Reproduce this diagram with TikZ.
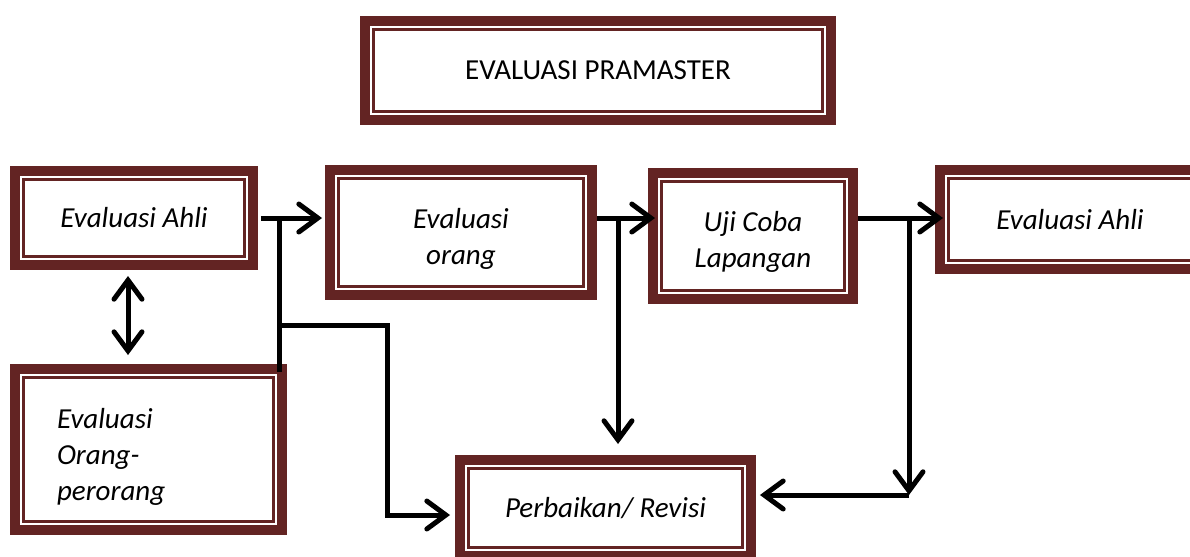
\documentclass[tikz,border=0pt]{standalone}
\usepackage{fontspec}
\setmainfont{Carlito}
\usetikzlibrary{positioning, arrows.meta, calc}
\definecolor{boxred}{RGB}{99,36,35}

\begin{document}
\begin{tikzpicture}[
	x=0.02cm, y=-0.02cm,
	stage box/.style={draw=boxred, line width=0.06cm, fill=white, outer sep=0.27cm,
		font=\fontsize{16.5}{20.7}\selectfont\itshape, align=center, inner sep=0pt},
	title box/.style={stage box, font=\fontsize{16.5}{20.7}\selectfont},
	band/.style={draw=boxred, line width=0.2cm},
	flow arrow/.style={-{Straight Barb[length=0.38cm, width=0.56cm, line cap=round]}, line width=0.1cm},
	both arrow/.style={{Straight Barb[length=0.38cm, width=0.56cm, line cap=round]}-{Straight Barb[length=0.38cm, width=0.56cm, line cap=round]}, line width=0.1cm},
	pline/.style={line width=0.1cm},
	]
	\useasboundingbox (0,0) rectangle (1190,556);
	\clip (0,0) rectangle (1190,556);
	
	% TOP - title
	\node[title box, minimum width=8.98cm, minimum height=1.64cm] (title) at (598,70.5) {EVALUASI PRAMASTER};
	
	% UPPER ROW - stages
	\node[stage box, minimum width=4.42cm, minimum height=1.54cm] (ahliL) at (134,218) {Evaluasi Ahli};
	\node[stage box, minimum width=4.90cm, minimum height=2.16cm, text height=36.9pt, text depth=0pt] (orang) at (461,232.5) {Evaluasi\\orang};
	\node[stage box, minimum width=3.66cm, minimum height=2.18cm, text height=36pt, text depth=0pt] (uji) at (753,236) {Uji Coba\\Lapangan};
	\node[stage box, minimum width=4.86cm, minimum height=1.64cm] (ahliR) at (1070,219.5) {Evaluasi Ahli};
	
	% LOWER ROW
	\node[stage box, minimum width=5.00cm, minimum height=2.88cm, text width=3.66cm,
		inner xsep=0.67cm, align=left, text height=0pt, text depth=24.4pt] (perorang) at (148.5,449.5) {Evaluasi\\Orang-\\perorang};
	\node[stage box, minimum width=5.48cm, minimum height=1.58cm] (revisi) at (605.5,508) {Perbaikan/ Revisi};
	
	% thick outer frames
	\foreach \n in {title, ahliL, orang, uji, ahliR, perorang, revisi}
		\draw[band] ([shift={(5,-5)}]\n.south west) rectangle ([shift={(-5,5)}]\n.north east);
	
	% Junction points
	\coordinate (ja) at (279,218);
	\coordinate (jb) at (387,325);
	\coordinate (jc) at (618,218);
	\coordinate (jd) at (909,218);
	\coordinate (je) at (909,495);
	
	% Connectors
	\draw[flow arrow] ([xshift=0.06cm]ahliL.east) -- ($(ahliL.east -| orang.west)+(-3,0)$);
	\draw[pline] (ja) -- ($(ja |- perorang.north)+(0,8)$);
	\draw[flow arrow] (ja |- jb) -- (jb) |- ($(revisi.west)+(-5,7)$);
	\draw[both arrow] ($(ahliL.south)+(-6,6)$) -- ($(ahliL.south |- perorang.north)+(-6,-9)$);
	
	\draw[flow arrow] (orang.east |- ahliL.east) -- ($(uji.west |- ahliL.east)+(7,0)$);
	\draw[flow arrow] (jc) -- ($(jc |- revisi.north)+(0,-11)$);
	
	\draw[flow arrow] (uji.east |- ahliL.east) -- ($(ahliR.west |- ahliL.east)+(8,0)$);
	\draw[flow arrow] (jd) -- (je);
	\draw[flow arrow] (je) -- ($(revisi.east |- je)+(4,0)$);
	
\end{tikzpicture}
\end{document}
